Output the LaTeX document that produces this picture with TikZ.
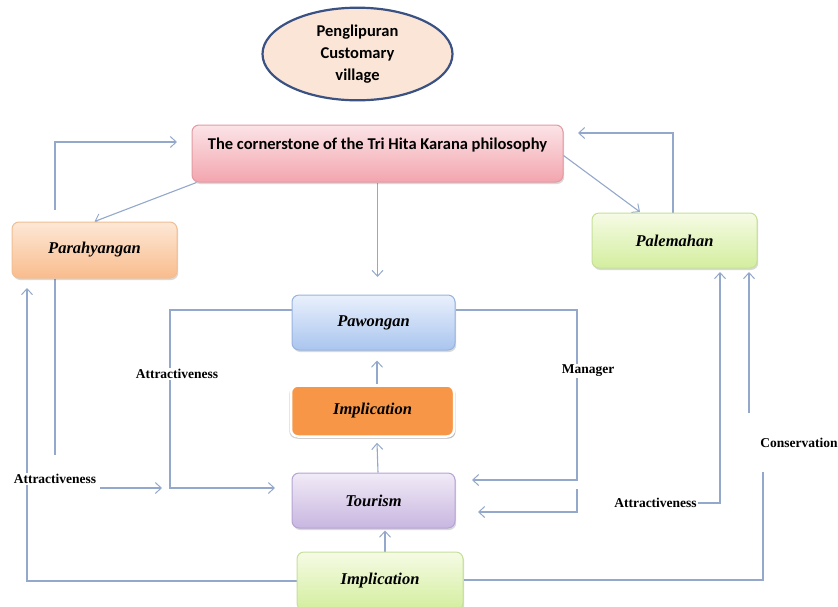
\documentclass[tikz,border=0pt]{standalone}
\usepackage{fontspec}
\setmainfont{Liberation Serif}
\newfontfamily\calfont{Carlito}
\usetikzlibrary{arrows.meta,shapes.geometric,shadows,backgrounds}
\definecolor{linec}{HTML}{93A8CB}
\definecolor{ellb}{HTML}{3A5183}
\definecolor{ellf}{HTML}{FBE5D6}
\definecolor{pinkt}{HTML}{FBE4E7}
\definecolor{pinkb}{HTML}{F3A5AE}
\definecolor{pinkd}{HTML}{E39AA2}
\definecolor{peacht}{HTML}{FDE8D6}
\definecolor{peachb}{HTML}{F9BC8D}
\definecolor{peachd}{HTML}{F1BE93}
\definecolor{greent}{HTML}{F6FBE5}
\definecolor{greenb}{HTML}{D3EE9E}
\definecolor{greend}{HTML}{C6E09A}
\definecolor{bluet}{HTML}{E9F0FC}
\definecolor{blueb}{HTML}{AAC5EF}
\definecolor{blued}{HTML}{98B3DE}
\definecolor{lavt}{HTML}{F1EBF7}
\definecolor{lavb}{HTML}{C8B6E0}
\definecolor{lavd}{HTML}{B6A3D2}
\definecolor{orangef}{HTML}{F79646}
\tikzset{
  conn/.style={draw=linec, line width=1.1pt},
  arr/.style={conn, -{Straight Barb[length=6pt,width=11pt,line width=1pt]}},
  boxbase/.style={rectangle, rounded corners=7pt, line width=1pt, inner sep=0pt,
    drop shadow={shadow xshift=1.2pt, shadow yshift=-2pt, opacity=0.25, fill=black!60}},
  boxtext/.style={font=\fontsize{16.5}{18}\selectfont\bfseries\itshape},
  pinkbox/.style={boxbase, draw=pinkd, top color=pinkt, bottom color=pinkb},
  peachbox/.style={boxbase, boxtext, draw=peachd, top color=peacht, bottom color=peachb},
  greenbox/.style={boxbase, boxtext, draw=greend, top color=greent, bottom color=greenb},
  bluebox/.style={boxbase, boxtext, draw=blued, top color=bluet, bottom color=blueb},
  lavbox/.style={boxbase, boxtext, draw=lavd, top color=lavt, bottom color=lavb},
  orangebox/.style={boxbase, boxtext, draw=white, line width=2.5pt, fill=orangef,
    drop shadow={shadow xshift=0pt, shadow yshift=-1.5pt, opacity=0.35, fill=black!50, shadow scale=1.02}},
  lbl/.style={font=\fontsize{13.5}{15}\selectfont\bfseries, fill=white, inner sep=1pt},
}
\begin{document}
\begin{tikzpicture}[x=1pt,y=-1pt]
\useasboundingbox (0,0) rectangle (838,606);

% nodes
\node[ellipse, draw=ellb, line width=2.2pt, fill=ellf, minimum width=190pt, minimum height=84pt,
      align=center, inner sep=0pt, font=\calfont\bfseries\fontsize{16.5}{21.5}\selectfont]
      (ell) at (357.5,54) {\raisebox{3.5pt}{\begin{tabular}{@{}c@{}}Penglipuran\\[0.5pt] Customary\\[0.5pt] village\end{tabular}}};

\node[pinkbox, minimum width=371pt, text height=24pt, text depth=33pt,
      font=\calfont\bfseries\fontsize{16.5}{18}\selectfont] (corner) at (377.5,153.5)
      {The cornerstone of the Tri Hita Karana philosophy};

\node[peachbox, minimum width=165pt, minimum height=56pt] (para) at (94.5,250) {Parahyangan};
\node[greenbox, minimum width=165pt, minimum height=55pt] (pale) at (674.5,240.5) {Palemahan};
\node[bluebox, minimum width=163pt, minimum height=55pt] (pawo) at (373.5,322.5) {Pawongan};
\node[orangebox, minimum width=163pt, minimum height=51pt] (impl1) at (372.5,411) {Implication};
\node[lavbox, minimum width=163pt, minimum height=55pt] (tour) at (373.5,500.5) {Tourism};
\node[greenbox, minimum width=166pt, minimum height=58pt] (impl2) at (380,581) {Implication};

% labels
\node[lbl] (attr1) at (177,374) {Attractiveness};
\node[lbl] (mgr) at (588,371) {Manager};
\node[lbl] (attr2) at (55,479) {Attractiveness};
\node[lbl] (attr3) at (655.5,503) {Attractiveness};
\node[lbl] (cons) at (799,443) {Conservation};

% coordinates for free ends
\coordinate (c1) at (55,210);
\coordinate (c2) at (177,142);
\coordinate (c3) at (377.5,277);
\coordinate (c4) at (640,212);
\coordinate (c5) at (578,133);
\coordinate (c6) at (275,488);
\coordinate (c6a) at (170,488);
\coordinate (c7a) at (577,310);
\coordinate (c7b) at (472,480);
\coordinate (c8a) at (577,489);
\coordinate (c8b) at (478,512);
\coordinate (c12) at (27,288);
\coordinate (c13) at (55,455);
\coordinate (c13a) at (100,488);
\coordinate (c13b) at (162,488);
\coordinate (c14) at (720,272);
\coordinate (c15a) at (749,413);
\coordinate (c15b) at (749,272);
\coordinate (c16) at (763,472);

% connectors (behind labels)
\begin{scope}[on background layer]
\draw[arr] (c1) |- (c2);
\draw[arr] ([xshift=5pt]corner.south west) -- (para.north);
\draw[arr] (corner.south) -- (c3);
\draw[arr] ([yshift=-2pt]corner.east) -- (c4);
\draw[arr] ([xshift=-1.5pt]pale.north) |- (c5);
\draw[arr] ([yshift=12.5pt]pawo.west) -| (c6a) -- (c6);
\draw[arr] ([yshift=12.5pt]pawo.east) -- (c7a) |- (c7b);
\draw[arr] (c8a) |- (c8b);
\draw[arr] ([xshift=4.5pt]impl1.north) -- ([xshift=3.5pt,yshift=-10pt]pawo.south);
\draw[arr] ([xshift=4.5pt]tour.north) -- ([xshift=4.5pt,yshift=-5pt]impl1.south);
\draw[arr] ([xshift=5pt]impl2.north) -- ([xshift=11.5pt,yshift=-2pt]tour.south);
\draw[arr] (impl2.west) -| (c12);
\draw[conn] ([xshift=-39.5pt]para.south) -- (c13);
\draw[arr] (c13a) -- (c13b);
\draw[arr] (attr3.east) -| (c14);
\draw[arr] (c15a) -- (c15b);
\draw[conn] ([yshift=1pt]impl2.east) -| (c16);
\end{scope}
\end{tikzpicture}
\end{document}
